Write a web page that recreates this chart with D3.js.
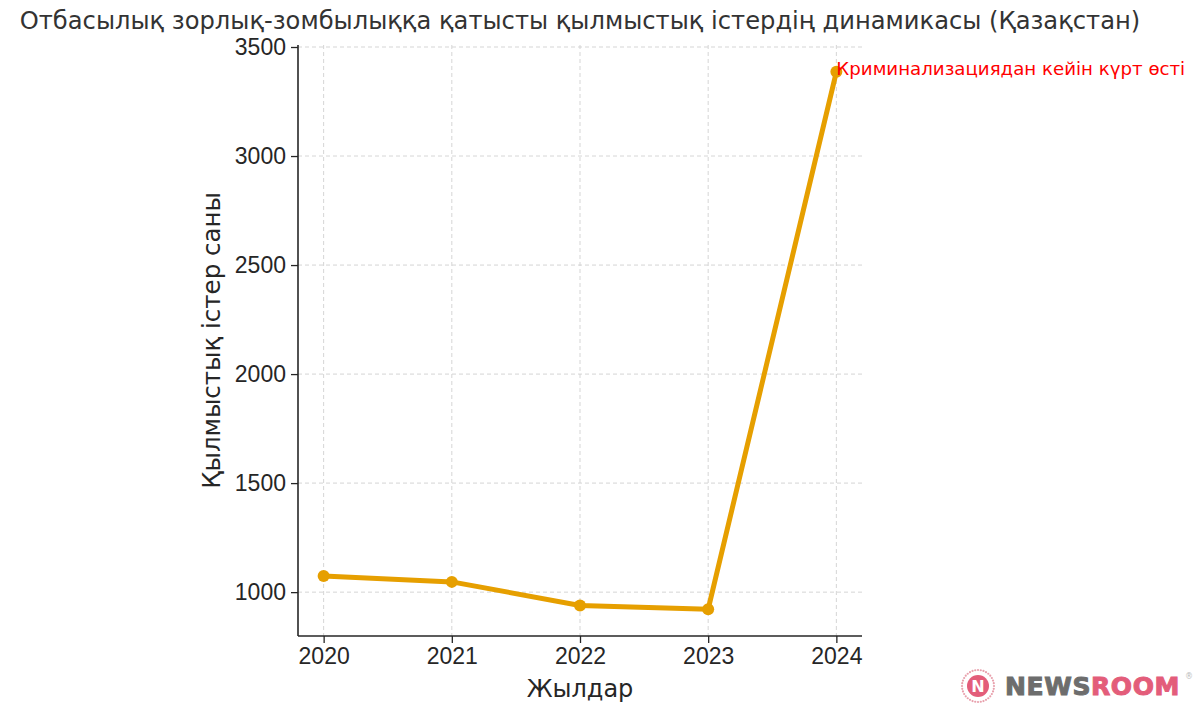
<!DOCTYPE html>
<html>
<head>
<meta charset="utf-8">
<script src="https://cdn.jsdelivr.net/npm/d3@7"></script>
<style>
  body { margin: 0; background: #fff; }
  svg { font-family: "DejaVu Sans", sans-serif; }
  .grid line { stroke: #d0d0d0; stroke-dasharray: 4,3; stroke-width: 0.9; }
  .axis path, .axis line { stroke: #262626; }
  .axis text { fill: #262626; font-size: 23px; }
</style>
</head>
<body>
<div id="chart"></div>
<script>
const years = [2020, 2021, 2022, 2023, 2024];
const cases = [1074, 1047, 939, 922, 3386];
const yTicks = [1000, 1500, 2000, 2500, 3000, 3500];

const titleText = "Отбасылық зорлық-зомбылыққа қатысты қылмыстық істердің динамикасы (Қазақстан)";
const xLabel = "Жылдар";
const yLabel = "Қылмыстық істер саны";
const noteText = "Криминализациядан кейін күрт өсті";

const width = 1200, height = 714;
const margin = { left: 298, right: 338, top: 45, bottom: 78 };
const innerW = width - margin.left - margin.right;
const innerH = height - margin.top - margin.bottom;

const svg = d3.select("#chart").append("svg")
  .attr("width", width)
  .attr("height", height);

// matplotlib-like 5% padding on both axes
const xPad = (years[years.length - 1] - years[0]) * 0.05;
const x = d3.scaleLinear()
  .domain([years[0] - xPad, years[years.length - 1] + xPad])
  .range([margin.left, margin.left + innerW]);

const yMin = d3.min(cases), yMax = d3.max(cases);
const yPad = (yMax - yMin) * 0.05;
const y = d3.scaleLinear()
  .domain([yMin - yPad, yMax + yPad])
  .range([margin.top + innerH, margin.top]);

// grid
const grid = svg.append("g").attr("class", "grid");
grid.selectAll("line.gx").data(years).enter().append("line")
  .attr("x1", d => x(d)).attr("x2", d => x(d))
  .attr("y1", margin.top).attr("y2", margin.top + innerH);
grid.selectAll("line.gy").data(yTicks).enter().append("line")
  .attr("x1", margin.left).attr("x2", margin.left + innerW)
  .attr("y1", d => y(d)).attr("y2", d => y(d));

// axes
const xAxis = d3.axisBottom(x).tickValues(years).tickFormat(d3.format("d")).tickSize(7).tickPadding(5);
const yAxis = d3.axisLeft(y).tickValues(yTicks).tickFormat(d3.format("d")).tickSize(7).tickPadding(5);

svg.append("g").attr("class", "axis")
  .attr("transform", "translate(0," + (margin.top + innerH) + ")")
  .call(xAxis)
  .call(g => g.select(".domain").attr("d", "M" + margin.left + ",0H" + (margin.left + innerW)).attr("stroke-width", 1.6))
  .call(g => g.selectAll(".tick line").attr("stroke-width", 1.3));

svg.append("g").attr("class", "axis")
  .attr("transform", "translate(" + margin.left + ",0)")
  .call(yAxis)
  .call(g => g.select(".domain").attr("d", "M0," + margin.top + "V" + (margin.top + innerH)).attr("stroke-width", 1.6))
  .call(g => g.selectAll(".tick line").attr("stroke-width", 1.3));

// line + markers
const line = d3.line().x((d, i) => x(years[i])).y(d => y(d));
svg.append("path")
  .datum(cases)
  .attr("d", line)
  .attr("fill", "none")
  .attr("stroke", "#e69f00")
  .attr("stroke-width", 5)
  .attr("stroke-linejoin", "round");

svg.selectAll("circle.pt").data(cases).enter().append("circle")
  .attr("cx", (d, i) => x(years[i]))
  .attr("cy", d => y(d))
  .attr("r", 6)
  .attr("fill", "#e69f00");

// annotation on last point
svg.append("text")
  .attr("x", x(years[4]))
  .attr("y", y(cases[4]) + 3)
  .attr("fill", "#ff0000")
  .attr("font-size", 18.2)
  .text(noteText);

// title and labels
svg.append("text")
  .attr("x", margin.left + innerW / 2)
  .attr("y", 29)
  .attr("text-anchor", "middle")
  .attr("fill", "#333")
  .attr("font-size", 24.2)
  .text(titleText);

svg.append("text")
  .attr("x", margin.left + innerW / 2)
  .attr("y", 697)
  .attr("text-anchor", "middle")
  .attr("fill", "#262626")
  .attr("font-size", 24)
  .text(xLabel);

svg.append("text")
  .attr("transform", "translate(220," + (margin.top + innerH / 2) + ") rotate(-90)")
  .attr("text-anchor", "middle")
  .attr("fill", "#262626")
  .attr("font-size", 24.5)
  .text(yLabel);

// watermark logo
const logo = svg.append("g").attr("transform", "translate(978,686)");
const dots = d3.range(36);
logo.selectAll("circle.dot").data(dots).enter().append("circle")
  .attr("cx", d => Math.cos(d / 36 * 2 * Math.PI) * 16)
  .attr("cy", d => Math.sin(d / 36 * 2 * Math.PI) * 16)
  .attr("r", 1.1)
  .attr("fill", "#e8a0ac");
logo.append("circle").attr("r", 11).attr("fill", "#e35d7a");
logo.append("text")
  .attr("text-anchor", "middle").attr("y", 6)
  .attr("font-size", 16).attr("font-weight", "bold").attr("fill", "#fff")
  .text("N");
const brand = logo.append("text")
  .attr("x", 27).attr("y", 9)
  .attr("font-size", 25).attr("font-weight", "bold")
  .attr("stroke-width", 1)
  .attr("letter-spacing", 0.6);
brand.append("tspan").attr("fill", "#6d6d6d").attr("stroke", "#6d6d6d").text("NEWS");
brand.append("tspan").attr("fill", "#e35d7a").attr("stroke", "#e35d7a").text("ROOM");
logo.append("text").attr("x", 207).attr("y", -7).attr("font-size", 8).attr("fill", "#bbb").text("®");
</script>
</body>
</html>
